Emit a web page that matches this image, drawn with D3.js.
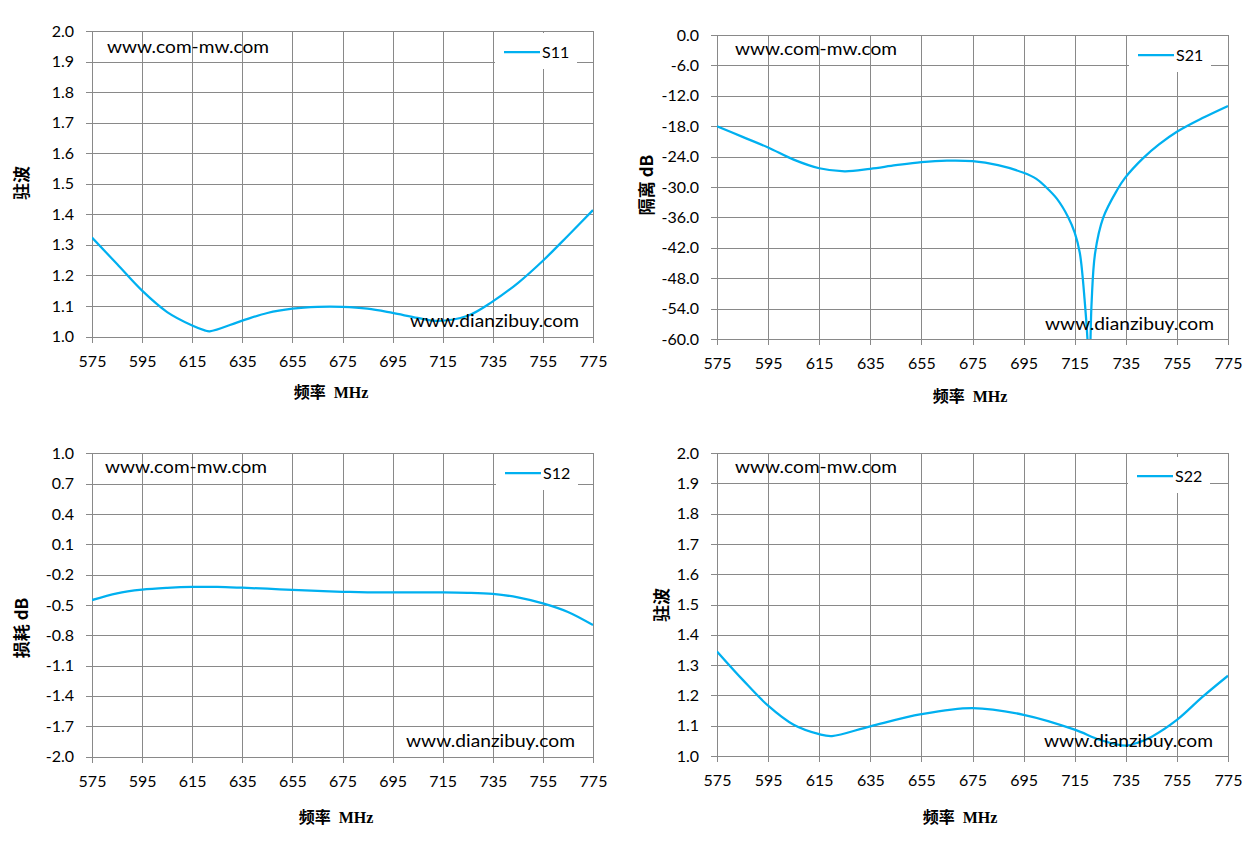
<!DOCTYPE html>
<html>
<head>
<meta charset="utf-8">
<script src="https://cdn.jsdelivr.net/npm/d3@7"></script>
<style>
  body { margin: 0; background: #fff; }
  svg { display: block; }
</style>
</head>
<body>
<svg id="chart" width="1259" height="844"></svg>
<script>
// frequency axis, shared by all four plots
var freqTicks = [575, 595, 615, 635, 655, 675, 695, 715, 735, 755, 775];

// S11 - 驻波
var s11Ticks = [1.0, 1.1, 1.2, 1.3, 1.4, 1.5, 1.6, 1.7, 1.8, 1.9, 2.0];
var s11Freq = [575, 585, 595, 605, 615, 620, 622, 635, 645, 655, 665, 675, 685, 695, 705, 713, 725, 735, 745, 755, 765, 775];
var s11Vals = [1.324, 1.237, 1.15, 1.08, 1.036, 1.02, 1.017, 1.052, 1.077, 1.091, 1.097, 1.097, 1.091, 1.077, 1.061, 1.051, 1.068, 1.115, 1.175, 1.248, 1.33, 1.414];

// S21 - 隔离 dB
var s21Ticks = [0, -6, -12, -18, -24, -30, -36, -42, -48, -54, -60];
var s21Freq = [575, 585, 595, 605, 615, 625, 635, 645, 655, 665, 675, 685, 695, 700, 703.5, 708, 712.5, 715, 717, 719, 720, 720.7, 721.6, 723, 726.2, 731.6, 734.7, 741.8, 748, 755, 765, 775];
var s21Vals = [-18.0, -20.1, -22.2, -24.6, -26.3, -26.9, -26.4, -25.7, -25.1, -24.8, -24.9, -25.7, -27.2, -28.4, -29.9, -32.3, -36, -39, -43, -53, -60, -68, -53, -43, -36, -30.6, -28.2, -24.3, -21.6, -19.1, -16.4, -14.0];

// S12 - 损耗 dB
var s12Ticks = [1.0, 0.7, 0.4, 0.1, -0.2, -0.5, -0.8, -1.1, -1.4, -1.7, -2.0];
var s12Freq = [575, 585, 595, 605, 615, 625, 635, 645, 655, 665, 675, 685, 695, 705, 715, 725, 735, 745, 755, 765, 775];
var s12Vals = [-0.452, -0.385, -0.35, -0.332, -0.322, -0.322, -0.33, -0.34, -0.352, -0.362, -0.37, -0.375, -0.377, -0.377, -0.376, -0.38, -0.392, -0.425, -0.485, -0.57, -0.70];

// S22 - 驻波
var s22Ticks = [1.0, 1.1, 1.2, 1.3, 1.4, 1.5, 1.6, 1.7, 1.8, 1.9, 2.0];
var s22Freq = [575, 585, 595, 605, 615, 620, 635, 655, 675, 695, 715, 725, 735, 740, 745, 755, 765, 775];
var s22Vals = [1.345, 1.252, 1.166, 1.103, 1.072, 1.066, 1.098, 1.138, 1.158, 1.136, 1.087, 1.053, 1.034, 1.045, 1.063, 1.119, 1.195, 1.265];

var gridColor = '#898989';
var lineColor = '#00b0f0';
var tickFont = 'Lato, "Open Sans", sans-serif';
var titleFont = '"Liberation Serif", "Noto Sans CJK SC", serif';
var cjkFont = '"Noto Sans CJK SC", sans-serif';

// d3 v7 uses a unicode minus by default, the chart uses a plain hyphen
var fmt = d3.formatLocale({ decimal: '.', thousands: ',', grouping: [3], currency: ['', ''], minus: '-' }).format('.1f');

var svg = d3.select('#chart');

var panels = [
  { name: 'S11', freq: s11Freq, vals: s11Vals, ticks: s11Ticks, domain: [1, 2],
    left: 92, right: 593, top: 31, bottom: 336.5,
    yTitle: '驻波', yTitleX: 20, yTitleY: 183, xTitleX: 331, xTitleY: 398,
    leg: [504, 52], mark1: [107, 52.5], mark2: [410, 327] },
  { name: 'S21', freq: s21Freq, vals: s21Vals, ticks: s21Ticks, domain: [-60, 0],
    left: 717, right: 1228, top: 35, bottom: 339,
    yTitle: '隔离 dB', yTitleX: 645, yTitleY: 185, xTitleX: 970, xTitleY: 402,
    leg: [1138, 55], mark1: [735, 55], mark2: [1045, 330] },
  { name: 'S12', freq: s12Freq, vals: s12Vals, ticks: s12Ticks, domain: [-2, 1],
    left: 92, right: 593, top: 453.3, bottom: 756.5,
    yTitle: '损耗 dB', yTitleX: 20, yTitleY: 628, xTitleX: 336, xTitleY: 823,
    leg: [505, 473], mark1: [105, 473], mark2: [406, 747] },
  { name: 'S22', freq: s22Freq, vals: s22Vals, ticks: s22Ticks, domain: [1, 2],
    left: 717, right: 1228, top: 453, bottom: 756,
    yTitle: '驻波', yTitleX: 660, yTitleY: 605, xTitleX: 960, xTitleY: 823,
    leg: [1137, 476], mark1: [735, 473], mark2: [1044, 747] }
];

function styleAxis(ax) {
  ax.select('.domain').remove();
  ax.attr('font-family', tickFont).attr('font-size', 16);
  ax.selectAll('line').attr('stroke', gridColor).attr('shape-rendering', 'crispEdges');
  ax.selectAll('text').attr('fill', '#000');
}

function drawPanel(p, i) {
  var x = d3.scaleLinear().domain([575, 775]).range([p.left, p.right]);
  var y = d3.scaleLinear().domain(p.domain).range([p.bottom, p.top]);
  var w = p.right - p.left, h = p.bottom - p.top;
  var g = svg.append('g');

  // horizontal grid with the small outer ticks on the left
  var yAx = g.append('g')
    .attr('transform', 'translate(' + (p.left - 6) + ',0)')
    .call(d3.axisLeft(y).tickValues(p.ticks).tickFormat(fmt).tickSize(-(w + 6)).tickPadding(12));
  styleAxis(yAx);

  // vertical grid with ticks below
  var xAx = g.append('g')
    .attr('transform', 'translate(0,' + (p.bottom + 6) + ')')
    .call(d3.axisBottom(x).tickValues(freqTicks).tickFormat(d3.format('d')).tickSize(-(h + 6)).tickPadding(13));
  styleAxis(xAx);

  var clipId = 'clip' + i;
  g.append('clipPath').attr('id', clipId)
    .append('rect').attr('x', p.left).attr('y', p.top).attr('width', w).attr('height', h);

  var line = d3.line()
    .x(function(d, j) { return x(p.freq[j]); })
    .y(function(d) { return y(d); })
    .curve(d3.curveCatmullRom.alpha(0.5));

  g.append('path')
    .datum(p.vals)
    .attr('clip-path', 'url(#' + clipId + ')')
    .attr('fill', 'none')
    .attr('stroke', lineColor)
    .attr('stroke-width', 2.25)
    .attr('d', line);

  // legend
  var lg = g.append('g').attr('transform', 'translate(' + p.leg[0] + ',' + p.leg[1] + ')');
  lg.append('rect').attr('x', -9).attr('y', -19).attr('width', 82).attr('height', 36).attr('fill', '#fff');
  lg.append('line').attr('x1', 0).attr('x2', 36).attr('y1', 0).attr('y2', 0)
    .attr('stroke', lineColor).attr('stroke-width', 2.25);
  lg.append('text').attr('x', 38).attr('y', 6)
    .attr('font-family', tickFont).attr('font-size', 16).text(p.name);

  // watermarks
  g.append('text').attr('x', p.mark1[0]).attr('y', p.mark1[1])
    .attr('font-family', tickFont).attr('font-size', 18)
    .attr('textLength', 162).attr('lengthAdjust', 'spacingAndGlyphs')
    .text('www.com-mw.com');
  g.append('text').attr('x', p.mark2[0]).attr('y', p.mark2[1])
    .attr('font-family', tickFont).attr('font-size', 18)
    .attr('textLength', 169).attr('lengthAdjust', 'spacingAndGlyphs')
    .text('www.dianzibuy.com');

  // axis titles
  g.append('text')
    .attr('x', p.xTitleX).attr('y', p.xTitleY)
    .attr('text-anchor', 'middle')
    .attr('font-family', titleFont).attr('font-weight', 'bold').attr('font-size', 16)
    .text('频率\u00a0\u00a0MHz');
  g.append('text')
    .attr('transform', 'translate(' + p.yTitleX + ',' + p.yTitleY + ') rotate(-90)')
    .attr('text-anchor', 'middle')
    .attr('dominant-baseline', 'central')
    .attr('font-family', cjkFont).attr('font-weight', 'bold').attr('font-size', 17)
    .text(p.yTitle);
}

panels.forEach(drawPanel);
</script>
</body>
</html>
